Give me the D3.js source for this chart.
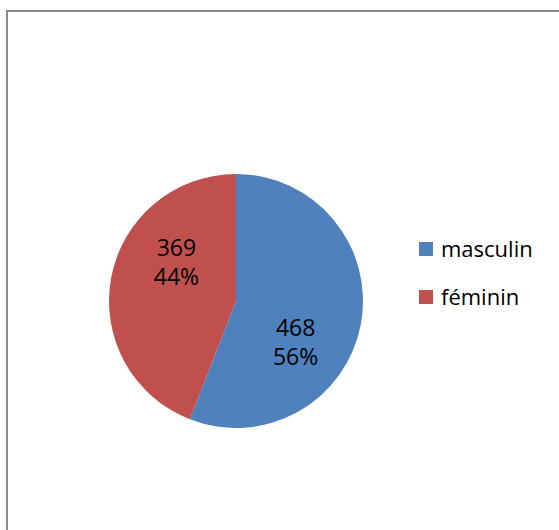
<!DOCTYPE html>
<meta charset="utf-8">
<style>
body { margin: 0; background: #fff; }
text { font-family: "Open Sans", sans-serif; fill: #000; }
</style>
<svg width="559" height="530"></svg>
<script src="https://d3js.org/d3.v7.min.js"></script>
<script>
var categories = ["masculin", "féminin"];
var values = [468, 369];
var colors = ["#4F81BD", "#C0504D"];

var svg = d3.select("svg"),
    cx = 236, cy = 301, radius = 127;

// chart frame (runs off the right and bottom of the picture)
svg.append("rect")
    .attr("x", 7)
    .attr("y", 11)
    .attr("width", 600)
    .attr("height", 600)
    .attr("fill", "none")
    .attr("stroke", "#898989")
    .attr("stroke-width", 2);

var data = categories.map(function(c, i) { return {name: c, value: values[i], color: colors[i]}; });
var total = d3.sum(values);

var pie = d3.pie()
    .sort(null)
    .value(function(d) { return d.value; });

var arc = d3.arc()
    .innerRadius(0)
    .outerRadius(radius);

// labels sit a bit clockwise of the slice middle, like the original
var shift = 0.41;
var labelArc = d3.arc()
    .innerRadius(72)
    .outerRadius(72);

var g = svg.append("g")
    .attr("transform", "translate(" + cx + "," + cy + ")");

var arcs = pie(data);

g.selectAll("path")
    .data(arcs)
  .enter().append("path")
    .attr("d", arc)
    .attr("fill", function(d) { return d.data.color; });

var lab = g.selectAll(".lab")
    .data(arcs)
  .enter().append("text")
    .attr("class", "lab")
    .attr("text-anchor", "middle")
    .style("font-size", "23px")
    .attr("transform", function(d) {
      var c = labelArc.centroid({startAngle: d.startAngle + shift, endAngle: d.endAngle + shift});
      return "translate(" + c[0] + "," + c[1] + ")";
    });

lab.append("tspan")
    .attr("x", 0)
    .attr("y", -5)
    .text(function(d) { return d.data.value; });
lab.append("tspan")
    .attr("x", 0)
    .attr("y", 24)
    .text(function(d) { return Math.round(d.data.value / total * 100) + "%"; });

// legend
var legend = svg.append("g")
    .attr("transform", "translate(419,242)");

var item = legend.selectAll("g")
    .data(data)
  .enter().append("g")
    .attr("transform", function(d, i) { return "translate(0," + (i * 48) + ")"; });

item.append("rect")
    .attr("width", 14)
    .attr("height", 14)
    .attr("fill", function(d) { return d.color; });

item.append("text")
    .attr("x", 22)
    .attr("y", 15)
    .style("font-size", "22px")
    .text(function(d) { return d.name; });
</script>
